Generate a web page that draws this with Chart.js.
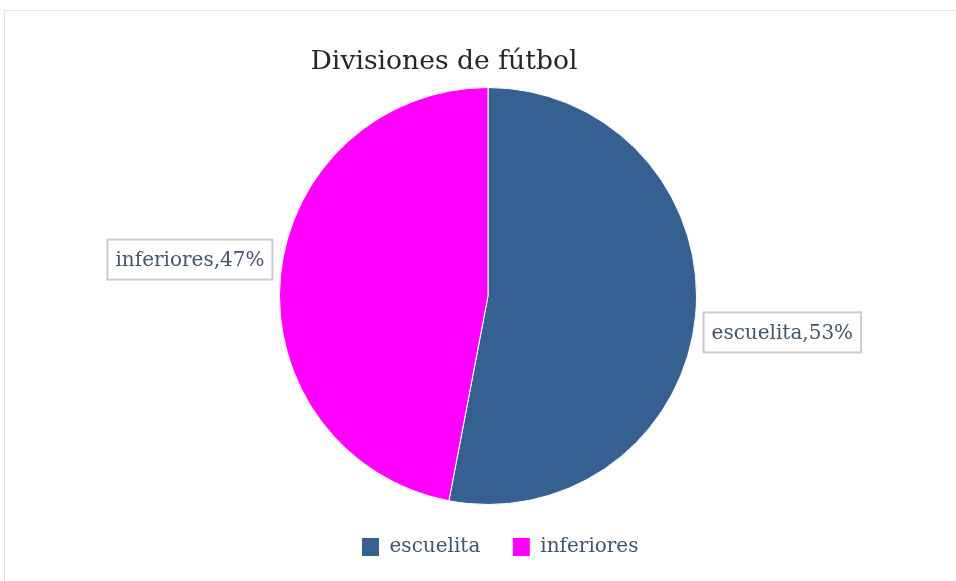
<!DOCTYPE html>
<html>
<head>
<meta charset="utf-8">
<script src="https://cdn.jsdelivr.net/npm/chart.js@4"></script>
<style>
  html, body { margin: 0; padding: 0; background: #fff; }
  #frame {
    position: absolute; left: 4px; top: 10px; width: 960px; height: 580px;
    border-top: 1px solid #dae5f1; border-left: 1px solid #dae5f1;
  }
  #wrap { position: absolute; left: 0; top: 0; width: 956px; height: 581px; }
</style>
</head>
<body>
<div id="frame"></div>
<div id="wrap"><canvas id="pieChart"></canvas></div>
<script>
const categories = ['escuelita', 'inferiores'];
const percentages = [53, 47];
const sliceColors = ['#366092', '#ff00ff'];
const chartTitle = 'Divisiones de fútbol';

const textColor = '#44546a';
const serif = '"DejaVu Serif", "Liberation Serif", serif';

// title drawn at its own spot (it is not centred on the pie in the original)
const titlePlugin = {
    id: 'titleText',
    afterDraw(chart) {
        const c = chart.ctx;
        c.save();
        c.font = '26.6px ' + serif;
        c.fillStyle = '#262626';
        c.textAlign = 'center';
        c.textBaseline = 'alphabetic';
        c.fillText(chartTitle, 444, 69);
        c.restore();
    }
};

// legend sits a little right of the pie centre in the original
const legendNudge = {
    id: 'legendNudge',
    afterLayout(chart) {
        chart.legend.left += 12;
        chart.legend.right += 12;
    }
};

// boxed "name,pct%" labels just outside each slice
const boxLabels = {
    id: 'boxLabels',
    afterDatasetsDraw(chart) {
        const c = chart.ctx;
        const meta = chart.getDatasetMeta(0);
        c.save();
        c.font = '20px ' + serif;
        c.textAlign = 'center';
        c.textBaseline = 'middle';
        meta.data.forEach((arc, i) => {
            const p = arc.getProps(['x', 'y', 'startAngle', 'endAngle', 'outerRadius'], true);
            const mid = (p.startAngle + p.endAngle) / 2;
            const cos = Math.cos(mid), sin = Math.sin(mid);
            const ax = p.x + (p.outerRadius + 8) * cos;
            const ay = p.y + (p.outerRadius + 8) * sin;
            const text = categories[i] + ',' + percentages[i] + '%';
            const w = c.measureText(text).width + 16;
            const h = 40;
            const bx = ax + (cos >= 0 ? 0 : -w);
            const by = ay + (sin >= 0 ? -4 : -h + 4);
            c.fillStyle = '#fff';
            c.fillRect(bx, by, w, h);
            c.strokeStyle = '#cacaca';
            c.lineWidth = 2;
            c.strokeRect(bx, by, w, h);
            c.fillStyle = textColor;
            c.fillText(text, bx + w / 2, by + h / 2 + 1);
        });
        c.restore();
    }
};

new Chart(document.getElementById('pieChart'), {
    type: 'pie',
    data: {
        labels: categories,
        datasets: [{
            data: percentages,
            backgroundColor: sliceColors,
            borderColor: '#ffffff',
            borderWidth: 1
        }]
    },
    options: {
        responsive: true,
        maintainAspectRatio: false,
        animation: false,
        layout: { padding: { top: 87, left: 20, right: 0, bottom: 14 } },
        plugins: {
            title: { display: false },
            tooltip: { enabled: false },
            legend: {
                position: 'bottom',
                labels: {
                    color: textColor,
                    font: { family: serif, size: 20 },
                    boxWidth: 18,
                    boxHeight: 19,
                    padding: 32
                }
            }
        }
    },
    plugins: [titlePlugin, legendNudge, boxLabels]
});
</script>
</body>
</html>
